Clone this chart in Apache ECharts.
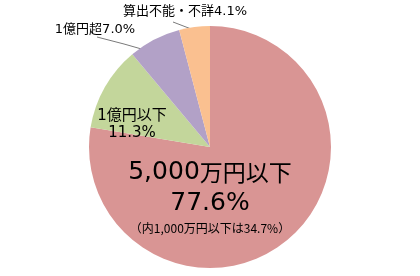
<!DOCTYPE html>
<html><head><meta charset="utf-8">
<script src="https://cdn.jsdelivr.net/npm/echarts@6/dist/echarts.min.js"></script>
<style>html,body{margin:0;padding:0;background:#fff}#c{width:420px;height:276px}</style>
</head><body><div id="c"></div>
<script>
const categories = ['5,000万円以下', '1億円以下', '1億円超', '算出不能・不詳'];
const values = [77.6, 11.3, 7.0, 4.1];
const subNote = '（内1,000万円以下は34.7%）';
const colors = ['#D99594', '#C3D69B', '#B2A1C7', '#FAC090'];

const FONT = '"DejaVu Sans", "Noto Sans CJK JP", sans-serif';
const CJK = '"Noto Sans CJK JP", sans-serif';
const fmt = v => v.toFixed(1) + '%';

// split a string into latin / CJK runs for rich text
function richRuns(s, latinStyle, cjkStyle) {
  const parts = s.match(/[\x00-\x7F]+|[^\x00-\x7F]+/g) || [];
  return parts.map(p => '{' + (/^[\x00-\x7F]/.test(p) ? latinStyle : cjkStyle) + '|' + p + '}').join('');
}

const data = categories.map((name, i) => {
  const d = { name, value: values[i], itemStyle: { color: colors[i] } };
  if (i === 0) {
    d.label = { position: 'inside', formatter: () =>
      richRuns(name, 'bigL', 'bigC') + '\n{big2|' + fmt(values[i]) + '}\n{small|' + subNote + '}' };
  } else if (i === 1) {
    d.label = { position: 'inside', formatter: () => name + '\n' + fmt(values[i]), fontSize: 15, lineHeight: 17 };
  } else {
    d.label = { position: 'outside', formatter: () => name + fmt(values[i]), fontSize: 13 };
    d.labelLine = { show: true, lineStyle: { color: '#7a7a7a', width: 1 } };
  }
  return d;
});

const layouts = {
  0: { x: 210, y: 197 },
  1: { x: 132, y: 125 },
  2: { x: 95, y: 30, pts: [[152, 52], [124, 44], [97, 37]] },
  3: { x: 185, y: 12, pts: [[199, 32], [186, 27], [173, 22]] }
};

const chart = echarts.init(document.getElementById('c'), null, { renderer: 'canvas' });
chart.setOption({
  animation: false,
  series: [{
    type: 'pie',
    center: [210, 147],
    radius: 121,
    startAngle: 90,
    clockwise: true,
    itemStyle: { borderWidth: 0 },
    label: {
      show: true, color: '#000', fontFamily: FONT,
      rich: {
        bigL: { fontSize: 25, lineHeight: 32, fontFamily: '"DejaVu Sans", sans-serif', color: '#000' },
        bigC: { fontSize: 23, lineHeight: 32, fontFamily: CJK, color: '#000' },
        big2: { fontSize: 25, lineHeight: 31, fontFamily: '"DejaVu Sans", sans-serif', color: '#000' },
        small: { fontSize: 12, lineHeight: 19, fontFamily: CJK, color: '#000' }
      }
    },
    labelLine: { show: false },
    labelLayout: function (p) {
      const l = layouts[p.dataIndex];
      const o = { x: l.x, y: l.y, align: 'center', verticalAlign: 'middle' };
      if (l.pts) o.labelLinePoints = l.pts;
      return o;
    },
    emphasis: { disabled: true },
    data: data
  }]
});
</script></body></html>
